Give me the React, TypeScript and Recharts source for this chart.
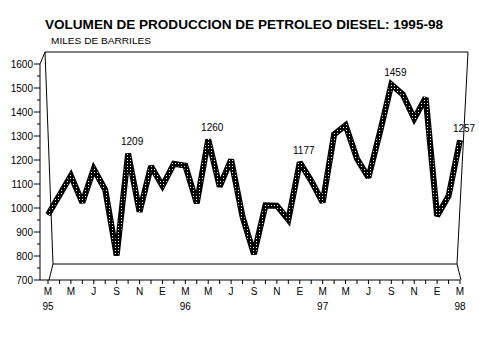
import React from "react";
import { ComposedChart, Line, XAxis, YAxis, LabelList } from "recharts";

// meses desde marzo 1995 hasta marzo 1998
const MESES = [
  "M", "A", "M", "J", "J", "A", "S", "O", "N", "D", "E", "F",
  "M", "A", "M", "J", "J", "A", "S", "O", "N", "D", "E", "F",
  "M", "A", "M", "J", "J", "A", "S", "O", "N", "D", "E", "F",
  "M",
];
const ANIOS = ["95", "96", "97", "98"];

// miles de barriles
const VOLUMEN = [
  987, 1058, 1129, 1031, 1153, 1078, 840, 1209, 998, 1163, 1092, 1172,
  1165, 1029, 1260, 1089, 1187, 980, 845, 1021, 1020, 969, 1177, 1110,
  1032, 1278, 1311, 1190, 1122, 1285, 1459, 1423, 1335, 1411, 983, 1055,
  1257,
];
// puntos con valor rotulado
const ROTULADOS = [7, 14, 22, 30, 36];

const Y_TICKS = [
  700, 750, 800, 850, 900, 950, 1000, 1050, 1100, 1150, 1200, 1250, 1300,
  1350, 1400, 1450, 1500, 1550, 1600,
];

const FONT = "'Liberation Sans', Arial, sans-serif";

const data = VOLUMEN.map((v, i) => ({
  i,
  v,
  rotulo: ROTULADOS.includes(i) ? v : null,
}));

const XTick = ({ x, y, payload }: any) => {
  const i = payload.value as number;
  return (
    <g>
      <line x1={x} y1={y} x2={x} y2={y + 4} stroke="#000" />
      {i % 2 === 0 && (
        <text x={x} y={y + 15} textAnchor="middle" fontSize={10} fontFamily={FONT} fill="#000">
          {MESES[i]}
        </text>
      )}
      {i % 12 === 0 && (
        <text x={x} y={y + 30} textAnchor="middle" fontSize={10} fontFamily={FONT} fill="#000">
          {ANIOS[i / 12]}
        </text>
      )}
    </g>
  );
};

const YTick = ({ x, y, payload }: any) => {
  const major = payload.value % 100 === 0;
  return (
    <g>
      <line x1={x - (major ? 6 : 3)} y1={y} x2={x} y2={y} stroke="#000" />
      {major && (
        <text x={x - 7} y={y + 3.5} textAnchor="end" fontSize={10} fontFamily={FONT} fill="#000">
          {payload.value}
        </text>
      )}
    </g>
  );
};

const Rotulo = (props: any) => {
  const { x, y, value } = props;
  if (value == null) return null;
  return (
    <text x={x + 4} y={y - 8} textAnchor="middle" fontSize={10} fontFamily={FONT} fill="#000">
      {value}
    </text>
  );
};

export default function App() {
  return (
    <div style={{ position: "absolute", left: 0, top: 0, width: 479, height: 359, background: "#fff" }}>
      <ComposedChart
        width={479}
        height={359}
        data={data}
        margin={{ top: 64, right: 19, bottom: 34, left: 0 }}
      >
        <defs>
          <pattern id="trama" width={3} height={3} patternUnits="userSpaceOnUse">
            <rect width={3} height={3} fill="#000" />
            <rect x={1} y={1} width={1} height={1} fill="#fff" />
          </pattern>
        </defs>
        <XAxis
          dataKey="i"
          type="number"
          domain={[0, 36]}
          ticks={data.map((d) => d.i)}
          interval={0}
          padding={{ left: 8, right: 0 }}
          height={45}
          axisLine={{ stroke: "#000" }}
          tickLine={false}
          tickSize={0}
          tickMargin={0}
          tick={<XTick />}
        />
        <YAxis
          yAxisId="eje"
          type="number"
          domain={[700, 1600]}
          ticks={Y_TICKS}
          interval={0}
          allowDataOverflow
          width={40}
          axisLine={{ stroke: "#000" }}
          tickLine={false}
          tickSize={0}
          tickMargin={0}
          tick={<YTick />}
        />
        <YAxis yAxisId="s" type="number" domain={[751, 1533]} allowDataOverflow hide />
        {/* cinta: borde negro y relleno tramado */}
        <Line
          yAxisId="s"
          type="linear"
          dataKey="v"
          stroke="#000"
          strokeWidth={6}
          strokeLinejoin="miter"
          strokeMiterlimit={2.5}
          dot={false}
          activeDot={false}
          isAnimationActive={false}
        />
        <Line
          yAxisId="s"
          type="linear"
          dataKey="v"
          stroke="url(#trama)"
          strokeWidth={3.5}
          strokeLinejoin="miter"
          strokeMiterlimit={2.5}
          dot={false}
          activeDot={false}
          isAnimationActive={false}
        />
        <Line
          yAxisId="s"
          type="linear"
          dataKey="rotulo"
          stroke="none"
          dot={false}
          activeDot={false}
          isAnimationActive={false}
        >
          <LabelList dataKey="rotulo" content={<Rotulo />} />
        </Line>
      </ComposedChart>
      <svg
        width={479}
        height={359}
        style={{ position: "absolute", left: 0, top: 0, pointerEvents: "none" }}
      >
        <g stroke="#000" strokeWidth={1} fill="none">
          <line x1={40} y1={64} x2={45} y2={52} />
          <line x1={45} y1={52} x2={468} y2={52} />
          <line x1={45} y1={52} x2={53} y2={264} />
          <line x1={468} y1={52} x2={457} y2={264} />
          <line x1={53} y1={264} x2={457} y2={264} />
          <line x1={53} y1={264} x2={49} y2={280} />
          <line x1={457} y1={264} x2={461} y2={280} />
        </g>
        <text x={45} y={29} fontSize={13} fontWeight="bold" fontFamily={FONT} textLength={398} lengthAdjust="spacingAndGlyphs">
          VOLUMEN DE PRODUCCION DE PETROLEO DIESEL: 1995-98
        </text>
        <text x={51} y={44} fontSize={8.5} fontFamily={FONT} textLength={100} lengthAdjust="spacingAndGlyphs">
          MILES DE BARRILES
        </text>
      </svg>
    </div>
  );
}
